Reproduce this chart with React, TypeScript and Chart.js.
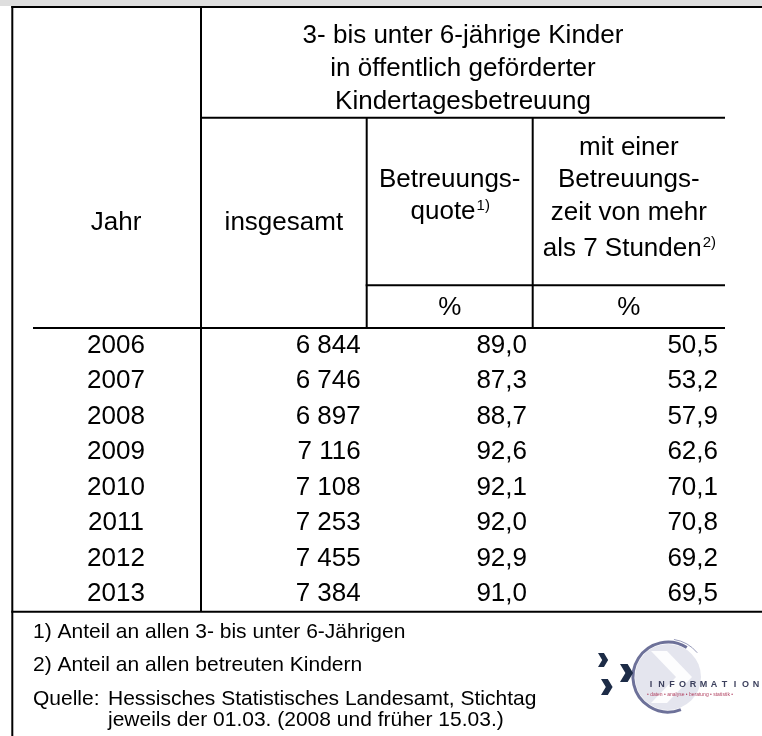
import React, { useEffect, useRef } from "react";
import { Chart, registerables } from "chart.js";

Chart.register(...registerables);

// ---------- data ----------
const years = ["2006", "2007", "2008", "2009", "2010", "2011", "2012", "2013"];
const totalChildren = [6844, 6746, 6897, 7116, 7108, 7253, 7455, 7384];
const careRate = [89.0, 87.3, 88.7, 92.6, 92.1, 92.0, 92.9, 91.0];
const over7Hours = [50.5, 53.2, 57.9, 62.6, 70.1, 70.8, 69.2, 69.5];

const groupHeader = [
  "3- bis unter 6-jährige Kinder",
  "in öffentlich geförderter",
  "Kindertagesbetreuung",
];
const colYear = "Jahr";
const colTotal = "insgesamt";
const colRate = ["Betreuungs-", "quote"];
const colRateSup = "1)";
const colLong = ["mit einer", "Betreuungs-", "zeit von mehr", "als 7 Stunden"];
const colLongSup = "2)";
const unitLabel = "%";
const footnote1 = "1) Anteil an allen 3- bis unter 6-Jährigen";
const footnote2 = "2) Anteil an allen betreuten Kindern";
const sourceLabel = "Quelle:";
const sourceLines = [
  "Hessisches Statistisches Landesamt, Stichtag",
  "jeweils der 01.03. (2008 und früher 15.03.)",
];
const logoTitle = "INFORMATION";
const logoSubtitle = "• daten • analyse • beratung • statistik •";

// ---------- helpers ----------
const FONT = '"Liberation Sans", Arial, Helvetica, sans-serif';

const fmtThousands = (v: number) => {
  const th = Math.floor(v / 1000);
  const rest = v % 1000;
  return th > 0 ? `${th} ${String(rest).padStart(3, "0")}` : String(rest);
};
const fmtPct = (v: number) => v.toFixed(1).replace(".", ",");

const tablePlugin = {
  id: "tableDraw",
  beforeDraw(chart: any) {
    const ctx = chart.ctx as CanvasRenderingContext2D;
    ctx.save();
    ctx.fillStyle = "#ffffff";
    ctx.fillRect(0, 0, chart.width, chart.height);
    ctx.restore();
  },
  afterDraw(chart: any) {
    const ctx = chart.ctx as CanvasRenderingContext2D;
    const yScale = chart.scales.y;
    const W = chart.width;
    const H = chart.height;

    // layout constants
    const xL = 12.3;
    const x1 = 201;
    const x2 = 366.7;
    const x3 = 532.7;
    const xR = 725;
    const yTop = 7;
    const yGroup = 117.7;
    const yUnitTop = 285.3;
    const yHead = 328;
    const yBottom = 611.7;

    ctx.save();
    // top grey band
    ctx.fillStyle = "#dedede";
    ctx.fillRect(0, 0, W, 6);

    ctx.strokeStyle = "#000";
    ctx.lineWidth = 2;
    ctx.lineCap = "butt";
    const h = (xa: number, xb: number, y: number) => {
      ctx.beginPath();
      ctx.moveTo(xa, y);
      ctx.lineTo(xb, y);
      ctx.stroke();
    };
    const v = (x: number, ya: number, yb: number) => {
      ctx.beginPath();
      ctx.moveTo(x, ya);
      ctx.lineTo(x, yb);
      ctx.stroke();
    };
    h(xL - 1, W, yTop);
    v(xL, yTop - 1, H);
    v(x1, yTop, yBottom);
    h(x1 - 1, xR, yGroup);
    v(x2, yGroup, yHead);
    v(x3, yGroup, yHead);
    h(x2 - 1, xR, yUnitTop);
    h(33, xR, yHead);
    h(xL - 1, W, yBottom);

    ctx.fillStyle = "#000";
    ctx.textBaseline = "middle";
    const big = `26px ${FONT}`;
    const sup = `15px ${FONT}`;

    const center = (t: string, cx: number, cy: number) => {
      ctx.font = big;
      ctx.textAlign = "center";
      ctx.fillText(t, cx, cy);
    };
    const withSup = (t: string, s: string, cx: number, cy: number) => {
      ctx.font = big;
      const wm = ctx.measureText(t).width;
      ctx.font = sup;
      const ws = ctx.measureText(s).width;
      const sx = cx - (wm + ws) / 2;
      ctx.textAlign = "left";
      ctx.font = big;
      ctx.fillText(t, sx, cy);
      ctx.font = sup;
      ctx.fillText(s, sx + wm + 1, cy - 6);
    };

    // header
    const gcx = (x1 + xR) / 2;
    [36, 69, 102].forEach((yy, i) => center(groupHeader[i], gcx, yy));
    center(colYear, 116, 223);
    center(colTotal, (x1 + x2) / 2, 223);
    const c3 = (x2 + x3) / 2;
    const c4 = (x3 + xR) / 2;
    center(colRate[0], c3, 180);
    withSup(colRate[1], colRateSup, c3, 212);
    center(colLong[0], c4, 148);
    center(colLong[1], c4, 180);
    center(colLong[2], c4, 213);
    withSup(colLong[3], colLongSup, c4, 249);
    center(unitLabel, c3, 308);
    center(unitLabel, c4, 308);

    // data rows through the category scale
    const labels = chart.data.labels as string[];
    const ds = chart.data.datasets;
    labels.forEach((lab, i) => {
      const yy = yScale.getPixelForValue(i);
      ctx.font = big;
      ctx.textAlign = "center";
      ctx.fillText(lab, 116, yy);
      ctx.textAlign = "right";
      ctx.fillText(fmtThousands(ds[0].data[i]), 360.7, yy);
      ctx.fillText(fmtPct(ds[1].data[i]), 527, yy);
      ctx.fillText(fmtPct(ds[2].data[i]), 718, yy);
    });

    // footnotes
    ctx.font = `21px ${FONT}`;
    ctx.textAlign = "left";
    ctx.fillText(footnote1, 33, 632);
    ctx.fillText(footnote2, 33, 665);
    ctx.fillText(sourceLabel, 33, 699);
    ctx.fillText(sourceLines[0], 108, 699);
    ctx.fillText(sourceLines[1], 108, 720);

    // logo
    const lcx = 668;
    const lcy = 677;
    ctx.fillStyle = "#e4e5ee";
    ctx.beginPath();
    ctx.arc(lcx, lcy, 33, 0, Math.PI * 2);
    ctx.fill();
    ctx.fillStyle = "rgba(255,255,255,0.9)";
    ctx.beginPath();
    ctx.moveTo(651, 651);
    ctx.lineTo(667, 651);
    ctx.lineTo(692, 677);
    ctx.lineTo(667, 703);
    ctx.lineTo(651, 703);
    ctx.lineTo(676, 677);
    ctx.closePath();
    ctx.fill();
    ctx.strokeStyle = "#6d7199";
    ctx.lineWidth = 3;
    ctx.beginPath();
    ctx.arc(lcx, lcy, 35, -Math.PI * 0.32, Math.PI * 0.38, true);
    ctx.stroke();
    ctx.lineWidth = 1;
    ctx.strokeStyle = "#9a9dbb";
    ctx.beginPath();
    ctx.arc(lcx, lcy, 38, -Math.PI * 0.45, -Math.PI * 0.22);
    ctx.stroke();
    // chevrons (filled arrow heads)
    ctx.fillStyle = "#1d2c47";
    const chev = (x: number, y: number, s: number) => {
      const t = s * 0.85;
      const p = s * 0.6;
      ctx.beginPath();
      ctx.moveTo(x, y - s);
      ctx.lineTo(x + t, y - s);
      ctx.lineTo(x + t + p, y);
      ctx.lineTo(x + t, y + s);
      ctx.lineTo(x, y + s);
      ctx.lineTo(x + p, y);
      ctx.closePath();
      ctx.fill();
    };
    chev(598, 660, 7);
    chev(620, 673, 9);
    chev(601, 687, 8);
    // title
    ctx.fillStyle = "#3c405d";
    ctx.font = `bold 9px ${FONT}`;
    ctx.textAlign = "center";
    const step = 10.5;
    for (let i = 0; i < logoTitle.length; i++) {
      ctx.fillText(logoTitle[i], 651 + i * step, 685);
    }
    ctx.fillStyle = "#b24463";
    ctx.font = `5px ${FONT}`;
    ctx.textAlign = "left";
    ctx.fillText(logoSubtitle, 647, 695);

    ctx.restore();
  },
};

export default function App() {
  const ref = useRef<HTMLCanvasElement | null>(null);
  useEffect(() => {
    if (!ref.current) return;
    const chart = new Chart(ref.current, {
      type: "bar",
      data: {
        labels: years,
        datasets: [
          { label: "insgesamt", data: totalChildren, backgroundColor: "rgba(0,0,0,0)" },
          { label: "Betreuungsquote", data: careRate, backgroundColor: "rgba(0,0,0,0)" },
          { label: "mehr als 7 Stunden", data: over7Hours, backgroundColor: "rgba(0,0,0,0)" },
        ],
      },
      options: {
        indexAxis: "y",
        animation: false,
        responsive: false,
        devicePixelRatio: 1,
        layout: { padding: { top: 328, bottom: 736 - 611.7, left: 0, right: 0 } },
        scales: {
          x: { display: false, beginAtZero: true },
          y: { type: "category", display: false, offset: true },
        },
        plugins: {
          legend: { display: false },
          tooltip: { enabled: false },
          title: { display: false },
        },
      },
      plugins: [tablePlugin],
    });
    return () => chart.destroy();
  }, []);
  return (
    <div style={{ position: "fixed", left: 0, top: 0, width: 762, height: 736, background: "#fff" }}>
      <canvas ref={ref} width={762} height={736} style={{ display: "block" }} />
    </div>
  );
}
